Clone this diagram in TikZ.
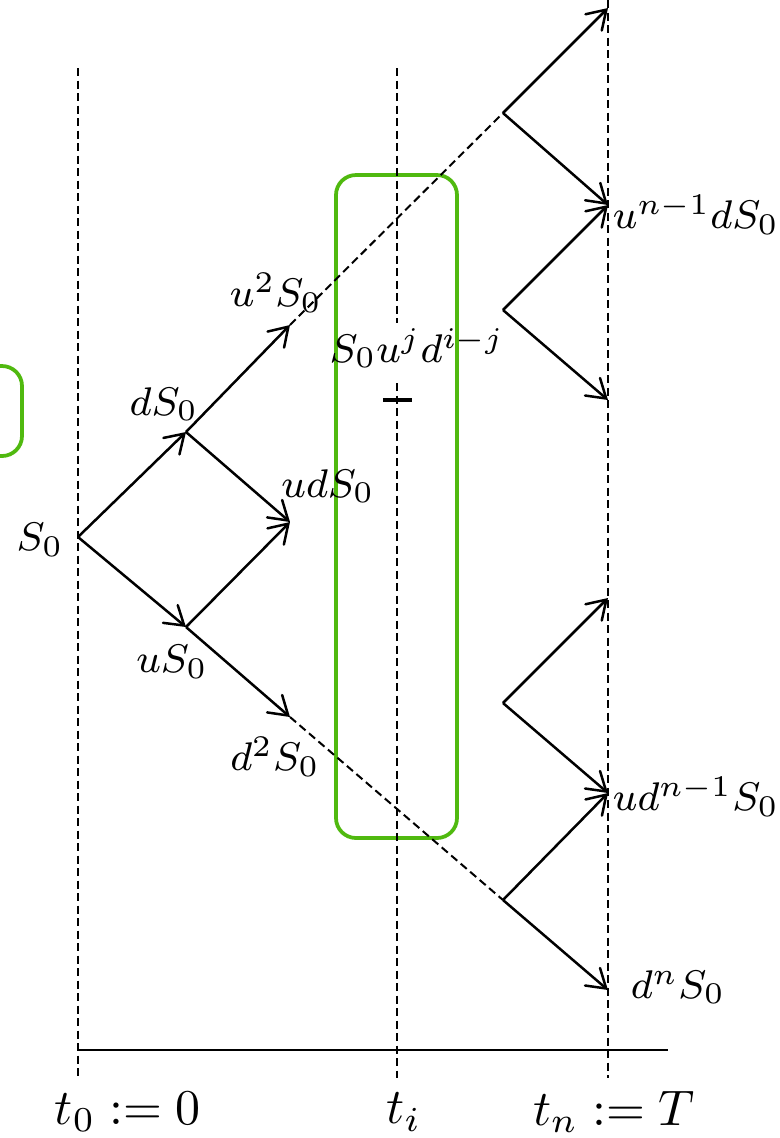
\documentclass[tikz,border=0pt]{standalone}
\usetikzlibrary{arrows.meta}
\definecolor{boxgreen}{RGB}{80,185,15}
\begin{document}
\begin{tikzpicture}[x=0.2pt,y=0.2pt,
  tl/.style={line width=0.5pt},
  arr/.style={line width=0.5pt,-{Straight Barb[length=3.6pt,width=4.6pt,line cap=round]}},
  dsh/.style={line width=0.4pt,dash pattern=on 1.6pt off 0.9pt},
  gbox/.style={draw=boxgreen,line width=0.75pt,rounded corners=4pt},
  lbl/.style={inner sep=0pt,font=\fontsize{8.4pt}{10pt}\selectfont},
  tlbl/.style={inner sep=0pt,font=\fontsize{10pt}{12pt}\selectfont}]
\useasboundingbox (0,0) rectangle (780,-1138);
% green boxes
\draw[gbox] (336,-175) rectangle (457,-838);
\begin{scope}
\clip (0,0) rectangle (780,-1138);
\draw[gbox] (-60,-366) rectangle (22,-456);
\end{scope}
% time lines
\coordinate (t0top) at (78,-68);
\coordinate (t0bot) at (78,-1078);
\coordinate (titop) at (397,-68);
\coordinate (tibot) at (397,-1078);
\coordinate (tntop) at (608,0);
\coordinate (tnbot) at (608,-1078);
\coordinate (axl) at (78,-1050);
\coordinate (axr) at (668,-1050);
\draw[dsh] (t0top) -- (t0bot);
\draw[dsh] (tntop) -- (tnbot);
\coordinate (tia) at (397,-323);
\coordinate (tib) at (397,-383);
\draw[dsh] (titop) -- (tia);
\draw[dsh] (tib) -- (tibot);
\draw[tl] (axl) -- (axr);
\node[tlbl] (l0) at (128,-1112) {$t_0:=0$};
\node[tlbl] (li) at (404,-1112) {$t_i$};
\node[tlbl] (ln) at (614,-1112) {$t_n:=T$};
% tree points
\coordinate (S) at (78,-537);
\coordinate (a1) at (186,-432);
\coordinate (b1) at (186,-627);
\coordinate (a2) at (290,-325);
\coordinate (m2) at (290,-522);
\coordinate (b2) at (290,-717);
\coordinate (p1) at (503,-113);
\coordinate (p2) at (503,-310);
\coordinate (p3) at (503,-703);
\coordinate (p4) at (503,-900);
\coordinate (e1) at (608,-8);
\coordinate (e2) at (608,-205);
\coordinate (e3) at (608,-400);
\coordinate (e4) at (608,-598);
\coordinate (e5) at (608,-793);
\coordinate (e6) at (608,-990);
\draw[arr] (S) -- (a1);
\draw[arr] (S) -- (b1);
\draw[arr] (a1) -- (a2);
\draw[arr] (a1) -- (m2);
\draw[arr] (b1) -- (m2);
\draw[arr] (b1) -- (b2);
\draw[dsh] (a2) -- (p1);
\draw[dsh] (b2) -- (p4);
\draw[arr] (p1) -- (e1);
\draw[arr] (p1) -- (e2);
\draw[arr] (p2) -- (e2);
\draw[arr] (p2) -- (e3);
\draw[arr] (p3) -- (e4);
\draw[arr] (p3) -- (e5);
\draw[arr] (p4) -- (e5);
\draw[arr] (p4) -- (e6);
% middle tick
\coordinate (tkl) at (383,-400);
\coordinate (tkr) at (412,-400);
\draw[line width=0.7pt] (tkl) -- (tkr);
% labels
\node[lbl] (LS) at (40,-540) {$S_0$};
\node[lbl] (La1) at (164,-404) {$dS_0$};
\node[lbl] (Lb1) at (172,-662) {$uS_0$};
\node[lbl] (La2) at (276,-293) {$u^2S_0$};
\node[lbl] (Lm2) at (328,-486) {$udS_0$};
\node[lbl] (Lb2) at (275,-757) {$d^2S_0$};
\node[lbl] (Lmid) at (417,-348) {$S_0u^jd^{i-j}$};
\node[lbl,anchor=west] (Le2) at (612,-215) {$u^{n-1}dS_0$};
\node[lbl,anchor=west] (Le5) at (612,-797) {$ud^{n-1}S_0$};
\node[lbl,anchor=west] (Le6) at (630,-987) {$d^nS_0$};
\end{tikzpicture}
\end{document}
